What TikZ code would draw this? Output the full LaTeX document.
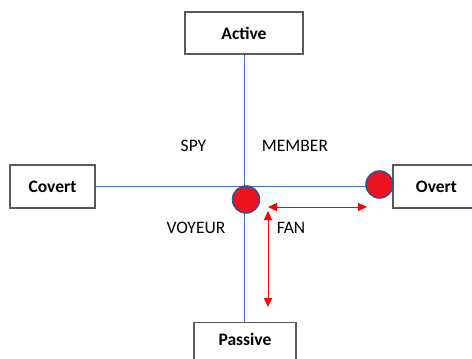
\documentclass[tikz,border=0pt]{standalone}
\usepackage{fontspec}
\setmainfont{Carlito}
\usetikzlibrary{arrows.meta}

\definecolor{axisblue}{RGB}{68,114,196}
\definecolor{ringblue}{RGB}{47,82,143}
\definecolor{boxgray}{RGB}{90,90,90}
\definecolor{dotred}{RGB}{235,20,30}

\tikzstyle{pole}=[draw=boxgray,line width=1.1pt,fill=white,font=\fontsize{17.5}{20}\selectfont\bfseries]
\tikzstyle{axis}=[draw=axisblue,line width=1pt]
\tikzstyle{dot}=[draw=ringblue,line width=1.5pt,circle,fill=dotred,minimum size=27pt,inner sep=0pt]
\tikzstyle{reach}=[draw=red,line width=1pt,{Triangle[width=8pt,length=9pt]}-{Triangle[width=8pt,length=9pt]}]
\tikzstyle{role}=[font=\fontsize{17.5}{20}\selectfont]

\begin{document}
\begin{tikzpicture}[x=1pt, y=-1pt]
    \useasboundingbox (0,0) rectangle (472,359);
    % the four poles
    \node[pole, minimum width=118pt, minimum height=42pt] (active) at (244,33) {Active};
    \node[pole, minimum width=85pt, minimum height=43pt] (covert) at (52.5,186.5) {Covert};
    \node[pole, minimum width=87pt, minimum height=43pt] (overt) at (436.5,186.5) {Overt};
    \node[pole, minimum width=102pt, text height=12pt, text depth=20pt, inner ysep=11pt, anchor=north] (passive) at (245,322) {Passive};
    % axes
    \path[axis] (active.south) -- (active.south |- passive.north);
    \path[axis] (covert.east) -- (overt.west);
    % roles in the quadrants
    \foreach \pos/\name/\txt in {{(193.5,146)/spy/SPY}, {(295,146)/member/MEMBER}, {(196,228)/voyeur/VOYEUR}, {(291,228)/fan/FAN}}
        \node[role] (\name) at \pos {\txt};
    % the dots and the ranges between them
    \node[dot] (centre) at (246,199.5) {};
    \node[dot] (edge) at (379.5,184.5) {};
    \coordinate (fanleft) at (268,207);
    \coordinate (fanright) at (367,207);
    \coordinate (fantop) at (268,211);
    \coordinate (fanbottom) at (268,307);
    \path[reach] (fanleft) -- (fanright);
    \path[reach] (fantop) -- (fanbottom);
\end{tikzpicture}
\end{document}
